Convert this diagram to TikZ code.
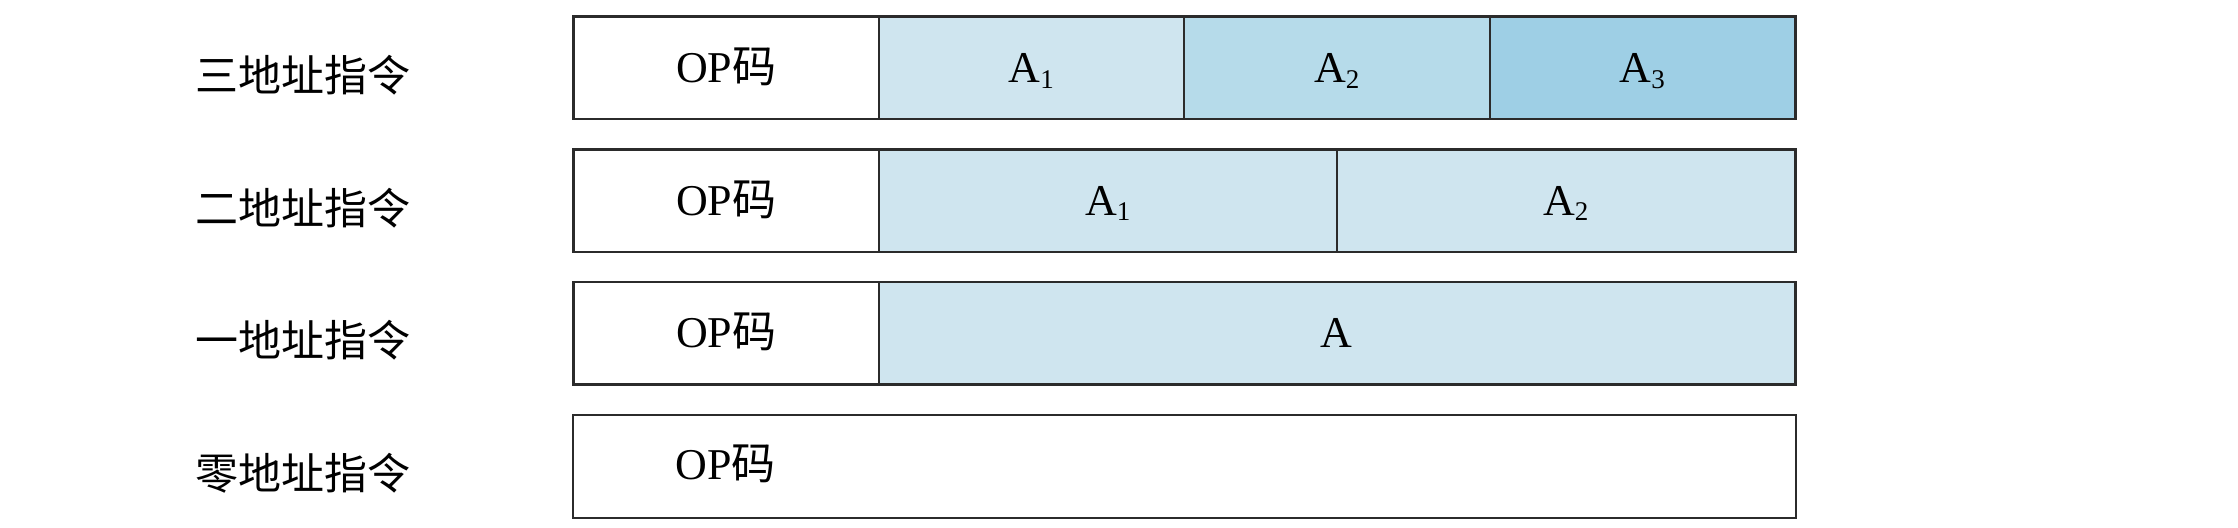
\documentclass[tikz,border=0pt]{standalone}
\usepackage{fontspec}
\setmainfont{Liberation Serif}
\newfontfamily\cjk{Noto Sans CJK SC}
\definecolor{lineC}{HTML}{2B2B2B}
\definecolor{fillA}{HTML}{CFE5EF}
\definecolor{fillB}{HTML}{B6DBEA}
\definecolor{fillC}{HTML}{9ECFE5}
\newcommand{\Asub}[1]{A\raisebox{-2.8pt}{\fontsize{13.5}{13.5}\selectfont #1}}
\begin{document}
\begin{tikzpicture}[x=0.5pt,y=-0.5pt,
  txt/.style={font=\fontsize{22}{22}\selectfont, text height=14.6pt, text depth=0pt},
  cell/.style={txt, draw=lineC, line width=0.75pt, anchor=north west, inner sep=0pt,
    minimum height=50.75pt},
  q1/.style={cell, minimum width=152.5pt},
  q2/.style={cell, minimum width=229pt},
  q3/.style={cell, minimum width=458pt},
  q4/.style={cell, minimum width=610.5pt},
  frame/.style={draw=lineC, line width=1pt},
  lab/.style={font=\cjk\fontsize{21.5}{21.5}\selectfont, inner sep=0pt}]
\useasboundingbox (0,0) rectangle (2238,528);
\def\OP{OP{\cjk 码}}
% row 1
\node[q1] (op1) at (573,16.5) {\OP};
\node[q1, fill=fillA] (a11) at (878,16.5) {\Asub{1}};
\node[q1, fill=fillB] (a12) at (1183.5,16.5) {\Asub{2}};
\node[q1, fill=fillC] (a13) at (1489,16.5) {\Asub{3}};
\draw[frame] (op1.north west) rectangle (a13.south east);
% row 2
\node[q1] (op2) at (573,149.2) {\OP};
\node[q2, fill=fillA] (a21) at (878,149.2) {\Asub{1}};
\node[q2, fill=fillA] (a22) at (1336,149.2) {\Asub{2}};
\draw[frame] (op2.north west) rectangle (a22.south east);
% row 3
\node[q1] (op3) at (573,281.9) {\OP};
\node[q3, fill=fillA] (a31) at (878,281.9) {A};
\draw[frame] (op3.north west) rectangle (a31.south east);
% row 4
\node[q4, draw=none] (r4) at (573,414.6) {};
\node[txt, inner sep=0pt] (op4) at (725.5,465.35) {\OP};
\draw[frame] (r4.north west) rectangle (r4.south east);
% labels
\node[lab] (l1) at (302.5,75) {三地址指令};
\node[lab] (l2) at (302.5,207.7) {二地址指令};
\node[lab] (l3) at (302.5,340.4) {一地址指令};
\node[lab] (l4) at (302.5,473.1) {零地址指令};
\end{tikzpicture}
\end{document}
